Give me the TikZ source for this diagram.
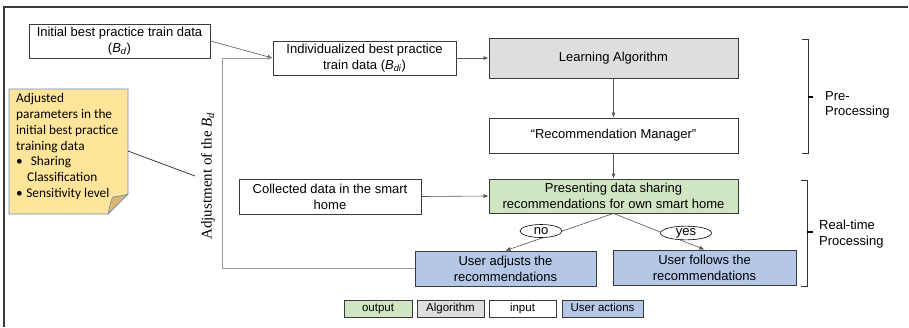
\documentclass[tikz,border=0pt]{standalone}
\usepackage{fontspec}
\setmainfont{Liberation Sans}
\newfontfamily\notefont{Carlito}
\newfontfamily\serifface{Liberation Serif}
\usetikzlibrary{arrows.meta,shapes.geometric}
\definecolor{boxline}{HTML}{3A3A3A}
\definecolor{algfill}{HTML}{DEDEDE}
\definecolor{outfill}{HTML}{D0E6C2}
\definecolor{userfill}{HTML}{B4C7E7}
\definecolor{notefill}{HTML}{FFE599}
\definecolor{noteline}{HTML}{6A8CBF}
\definecolor{foldfill}{HTML}{D8B76E}
\definecolor{arrowcol}{HTML}{555555}
\definecolor{fbcol}{HTML}{9A9A9A}
\newcommand\Bsub[1]{\textit{B}\textsubscript{\textit{#1}}}
\begin{document}
\begin{tikzpicture}[x=1pt,y=-1pt,
  font=\fontsize{13}{16}\selectfont,
  box/.style={draw=boxline, line width=0.8pt, align=center, inner sep=0pt},
  legbox/.style={box, font=\fontsize{11.5}{13}\selectfont, minimum height=17pt, text height=8.5pt, text depth=2.5pt},
  conn/.style={draw=arrowcol, line width=0.6pt, -{Latex[length=5pt,width=4pt]}},
  fbline/.style={draw=fbcol, line width=0.9pt, -{Latex[length=5pt,width=4pt]}},
  lab/.style={draw=black, line width=0.6pt, ellipse, fill=white, inner sep=0pt, minimum height=13pt},
  brk/.style={draw=black!80, line width=0.9pt},
  tick/.style={draw=black, line width=1.5pt}
]
\useasboundingbox (0,0) rectangle (909,327);
% frame
\draw[boxline, line width=1.3pt] (908,7) -- (4,7) -- (4,327);

% nodes
\node[box, minimum width=181pt, minimum height=34pt] (init) at (119.5,41) {Initial best practice train data\\(\Bsub{d})};
\node[box, minimum width=183pt, minimum height=34pt] (indiv) at (364.5,58) {Individualized best practice\\train data (\Bsub{di})};
\node[box, fill=algfill, minimum width=249pt, minimum height=40pt] (learn) at (613.5,58) {Learning Algorithm};
\node[box, minimum width=249pt, minimum height=35pt] (rm) at (613.5,135.5) {“Recommendation Manager”};
\node[box, fill=outfill, minimum width=249pt, minimum height=34pt] (pres) at (613.5,196) {Presenting data sharing\\recommendations for own smart home};
\node[box, minimum width=182pt, minimum height=35pt] (coll) at (330,196.5) {Collected data in the smart\\home};
\node[box, fill=userfill, minimum width=181pt, minimum height=35pt] (adj) at (505.5,268.5) {User adjusts the\\recommendations};
\node[box, fill=userfill, minimum width=183pt, minimum height=35pt] (fol) at (704.5,267.5) {User follows the\\recommendations};

% connectors
\draw[conn] (init.east) -- (indiv.west);
\coordinate (fb) at (222,58);
\draw[fbline] (adj.west) -| (fb) -- (indiv.west);
\draw[conn] (indiv.east) -- (learn.west);
\draw[conn] (learn.south) -- (rm.north);
\draw[conn] (rm.south) -- (pres.north);
\draw[conn] (coll.east) -- (pres.west);
\draw[conn] (pres.south) -- (adj.north);
\draw[conn] (pres.south) -- (fol.north);
\node[lab, minimum width=42pt] (no) at (541,231) {no};
\node[lab, minimum width=51pt] (yes) at (686,233) {yes};

% rotated label
\node[rotate=90, font=\serifface\fontsize{15}{18}\selectfont] (adjlabel) at (208,176) {Adjustment of the \Bsub{d}};

% note
\path[draw=noteline, fill=notefill, line width=0.8pt] (9,89) -- (128,89) -- (128,194) -- (108,214) -- (9,214) -- cycle;
\path[draw=noteline, fill=foldfill, line width=0.6pt] (108,214) .. controls (110,205) and (111,199) .. (113,197) .. controls (118,196) and (123,196) .. (128,194) -- cycle;
\node[anchor=north west, align=left, inner sep=0pt, font=\notefont\fontsize{13.3}{16}\selectfont] (notetext) at (16,93)
  {Adjusted\\parameters in the\\initial best practice\\training data\\[-1pt]\textbullet\hspace{8pt}Sharing\\\hspace{11pt}Classification\\\textbullet\hspace{3.5pt}Sensitivity level};
\coordinate (noteR) at (128,151);
\coordinate (noteL) at (195,176);
\draw[black!85, line width=0.7pt] (noteR) -- (noteL);

% brackets
\draw[brk] (802,39) -- (808,39) -- (808,153) -- (802,153);
\draw[tick] (808,97) -- (813,97);
\node[anchor=west, align=left, font=\fontsize{13}{15}\selectfont, inner sep=0pt] (pre) at (825,105) {Pre-\\Processing};
\draw[brk] (801,180) -- (807,180) -- (807,286) -- (801,286);
\draw[tick] (807,232) -- (813,232);
\node[anchor=west, align=left, inner sep=0pt] (rt) at (819,234) {Real-time\\Processing};

% legend
\node[legbox, fill=outfill, minimum width=68pt] (lg1) at (378,308.5) {output};
\node[legbox, fill=algfill, minimum width=67pt] (lg2) at (450.5,308.5) {Algorithm};
\node[legbox, minimum width=67pt] (lg3) at (522.5,308.5) {input};
\node[legbox, fill=userfill, minimum width=81pt] (lg4) at (602.5,308.5) {User actions};
\end{tikzpicture}
\end{document}
